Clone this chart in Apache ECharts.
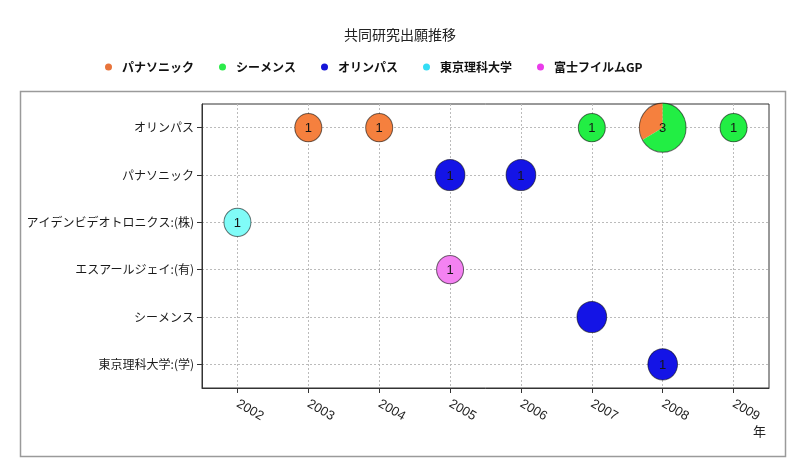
<!DOCTYPE html>
<html><head><meta charset="utf-8">
<script src="https://cdn.jsdelivr.net/npm/echarts@6/dist/echarts.min.js"></script>
<style>html,body{margin:0;padding:0;background:#fff}#c{width:800px;height:473px}</style>
</head><body><div id="c"></div>
<script>
const years = [2002, 2003, 2004, 2005, 2006, 2007, 2008, 2009];
const rows = ['オリンパス', 'パナソニック', 'アイデンビデオトロニクス:(株)', 'エスアールジェイ:(有)', 'シーメンス', '東京理科大学:(学)'];
const seriesNames = ['パナソニック', 'シーメンス', 'オリンパス', '東京理科大学', '富士フイルムGP'];
const seriesColors = ['#F5803E', '#22EE44', '#1414E6', '#80FCF8', '#F482F2'];
const legendColors = ['#E8743B', '#2CEB4A', '#1515D8', '#33DDF5', '#EA3CEA'];

const panasonic = [[2003, 'オリンパス', 1], [2004, 'オリンパス', 1], [2008, 'オリンパス', 1]];
const siemens = [[2007, 'オリンパス', 1], [2008, 'オリンパス', 2], [2009, 'オリンパス', 1]];
const olympus = [[2005, 'パナソニック', 1], [2006, 'パナソニック', 1], [2007, 'シーメンス', 1], [2008, '東京理科大学:(学)', 1]];
const tokyo = [[2002, 'アイデンビデオトロニクス:(株)', 1]];
const fuji = [[2005, 'エスアールジェイ:(有)', 1]];
const unlabeled = [[2007, 'シーメンス']];

const seriesData = [panasonic, siemens, olympus, tokyo, fuji];
const sliceOrder = [1, 0, 2, 3, 4];
const sizeScale = [1, 1, 1.1, 1, 1];
const baseR = 13.5;
const scaleY = 1.05;
const FONT = '"Noto Sans CJK JP", "Noto Sans", sans-serif';

const cells = {};
sliceOrder.forEach(si => {
  seriesData[si].forEach(d => {
    const row = rows.indexOf(d[1]);
    const key = d[0] + '|' + row;
    if (!cells[key]) cells[key] = { year: d[0], row: row, total: 0, parts: [], scale: 1, label: true };
    cells[key].total += d[2];
    cells[key].parts.push({ si: si, v: d[2] });
    cells[key].scale = Math.max(cells[key].scale, sizeScale[si]);
  });
});
unlabeled.forEach(u => { const k = u[0] + '|' + rows.indexOf(u[1]); if (cells[k]) cells[k].label = false; });
const cellList = Object.keys(cells).map(k => [cells[k].year, cells[k].row, cells[k].total]);

function makeRender(si) {
  return function (params, api) {
    const year = api.value(0), row = api.value(1), v = api.value(2);
    const cell = cells[year + '|' + row];
    const c = api.coord([year, row]);
    const r = baseR * Math.sqrt(cell.total) * cell.scale;
    if (v >= cell.total) {
      return { type: 'circle', x: c[0], y: c[1], scaleY: scaleY, shape: { cx: 0, cy: 0, r: r },
        style: { fill: seriesColors[si], stroke: null } };
    }
    let start = -Math.PI / 2;
    for (const p of cell.parts) { if (p.si === si) break; start += 2 * Math.PI * p.v / cell.total; }
    const end = start + 2 * Math.PI * v / cell.total;
    return { type: 'sector', x: c[0], y: c[1], scaleY: scaleY,
      shape: { cx: 0, cy: 0, r0: 0, r: r, startAngle: start, endAngle: end, clockwise: true },
      style: { fill: seriesColors[si], stroke: null } };
  };
}

function renderLabel(params, api) {
  const year = api.value(0), row = api.value(1);
  const cell = cells[year + '|' + row];
  const c = api.coord([year, row]);
  const r = baseR * Math.sqrt(cell.total) * cell.scale;
  const children = [{ type: 'circle', x: c[0], y: c[1], scaleY: scaleY, shape: { cx: 0, cy: 0, r: r },
    style: { fill: null, stroke: 'rgba(0,0,0,0.55)', lineWidth: 1 } }];
  if (cell.label) {
    children.push({ type: 'text', x: c[0], y: c[1] + 1, style: { text: String(cell.total), fill: '#151515',
      font: '13px "Liberation Sans", Arial, sans-serif', align: 'center', verticalAlign: 'middle' } });
  }
  return { type: 'group', children: children };
}

const series = seriesNames.map((name, si) => ({
  name: name, type: 'custom', renderItem: makeRender(si), clip: false, z: 3,
  itemStyle: { color: seriesColors[si] },
  data: seriesData[si].map(d => [d[0], rows.indexOf(d[1]), d[2]])
}));
series.push({ name: '_labels', type: 'custom', renderItem: renderLabel, clip: false, z: 4, silent: true, data: cellList });

const chart = echarts.init(document.getElementById('c'), null, { renderer: 'canvas' });
chart.setOption({
  animation: false,
  backgroundColor: '#fff',
  title: { text: '共同研究出願推移', left: 'center', top: 23,
    textStyle: { fontSize: 14, fontWeight: 'normal', color: '#222', fontFamily: FONT } },
  legend: {
    top: 56, left: 100, itemGap: 25, itemWidth: 7, itemHeight: 7, icon: 'circle',
    textStyle: { fontSize: 12, fontWeight: 'bold', color: '#111', fontFamily: FONT, padding: [0, 0, 0, 5] },
    data: seriesNames.map((n, i) => ({ name: n, itemStyle: { color: legendColors[i] } }))
  },
  grid: { left: 202, right: 31, top: 104, bottom: 85, show: true, borderColor: '#333', borderWidth: 1, containLabel: false },
  xAxis: {
    type: 'value', min: 2001.5, max: 2009.5,
    axisLine: { show: true, onZero: false, lineStyle: { color: '#333' } },
    axisTick: { show: true, length: 5, lineStyle: { color: '#333' }, customValues: years },
    axisLabel: { customValues: years, rotate: -30, fontSize: 13, color: '#222', margin: 15,
      fontFamily: '"Liberation Sans", Arial, sans-serif', formatter: v => String(v) },
    splitLine: { show: true, lineStyle: { color: '#bbbbbb', type: [2, 2] } }
  },
  yAxis: {
    type: 'value', min: -0.5, max: 5.5, inverse: true,
    axisLine: { show: true, onZero: false, lineStyle: { color: '#333' } },
    axisTick: { show: true, length: 5, lineStyle: { color: '#333' }, customValues: [0, 1, 2, 3, 4, 5] },
    axisLabel: { customValues: [0, 1, 2, 3, 4, 5], fontSize: 12, color: '#1a1a1a', margin: 8, fontFamily: FONT,
      formatter: v => rows[Math.round(v)] },
    splitLine: { show: true, lineStyle: { color: '#bbbbbb', type: [2, 2] } }
  },
  graphic: [
    { type: 'rect', left: 18, top: 89, shape: { x: 0, y: 0, width: 765, height: 365 },
      style: { fill: null, stroke: '#9a9a9a', lineWidth: 1.5 }, z: -1 },
    { type: 'text', left: 753, top: 425, style: { text: '年', fontSize: 13, fill: '#222', fontFamily: FONT } }
  ],
  series: series
});
</script>
</body></html>
